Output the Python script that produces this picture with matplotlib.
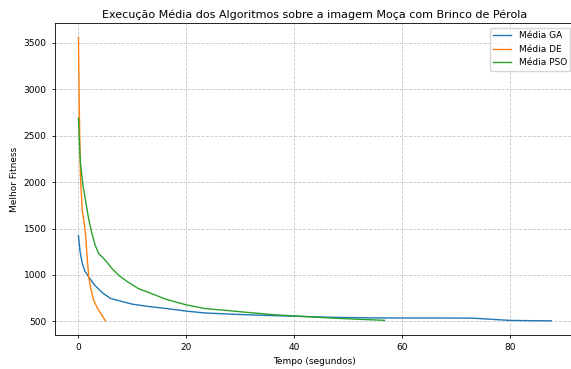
import matplotlib
matplotlib.use("Agg")
import matplotlib.pyplot as plt

# media das execucoes (tempo em segundos, melhor fitness)
ga_tempo = [0, 0.3, 0.7, 1.2, 1.9, 3.0, 4.5, 5.9, 8, 10, 13, 16, 20, 23.5, 28, 34, 40, 48, 55, 60, 66, 73, 77, 80, 84, 87.6]
ga_fitness = [1425, 1250, 1126, 1040, 978, 890, 805, 748, 715, 685, 660, 640, 610, 590, 578, 565, 555, 542, 537, 536, 536, 535, 520, 510, 507, 505]

de_tempo = [0, 0.15, 0.37, 0.7, 1.0, 1.3, 1.6, 1.9, 2.3, 2.8, 3.2, 3.75, 4.3, 5.0]
de_fitness = [3560, 2800, 2057, 1700, 1580, 1450, 1200, 978, 850, 727, 680, 619, 570, 505]

pso_tempo = [0, 0.15, 0.37, 0.8, 1.3, 1.9, 2.5, 3.1, 3.75, 5.0, 6.2, 7.45, 9, 11.1, 13.5, 16.1, 19.8, 23.5, 27, 31, 36, 40.4, 46, 52, 56.7]
pso_fitness = [2690, 2450, 2202, 1980, 1806, 1600, 1446, 1320, 1230, 1158, 1070, 996, 930, 853, 800, 740, 680, 637, 620, 598, 572, 557, 538, 522, 511]

fig, ax = plt.subplots(figsize=(5.71, 3.69), dpi=100)
ax.plot(ga_tempo, ga_fitness, label='Média GA', lw=1.0)
ax.plot(de_tempo, de_fitness, label='Média DE', lw=1.0)
ax.plot(pso_tempo, pso_fitness, label='Média PSO', lw=1.0)
ax.set_title('Execução Média dos Algoritmos sobre a imagem Moça com Brinco de Pérola', fontsize=8, pad=4)
ax.set_xlabel('Tempo (segundos)', fontsize=6.5, labelpad=3)
ax.set_ylabel('Melhor Fitness', fontsize=6.5, labelpad=3)
ax.tick_params(labelsize=6.5, width=0.6, length=2.5)
for s in ax.spines.values():
    s.set_linewidth(0.6)
ax.grid(True, linestyle='--', alpha=0.7, lw=0.6)
ax.legend(fontsize=6.5, loc='upper right')
fig.subplots_adjust(left=0.096, right=1.007, top=0.937, bottom=0.092)
fig.savefig('out.png')
